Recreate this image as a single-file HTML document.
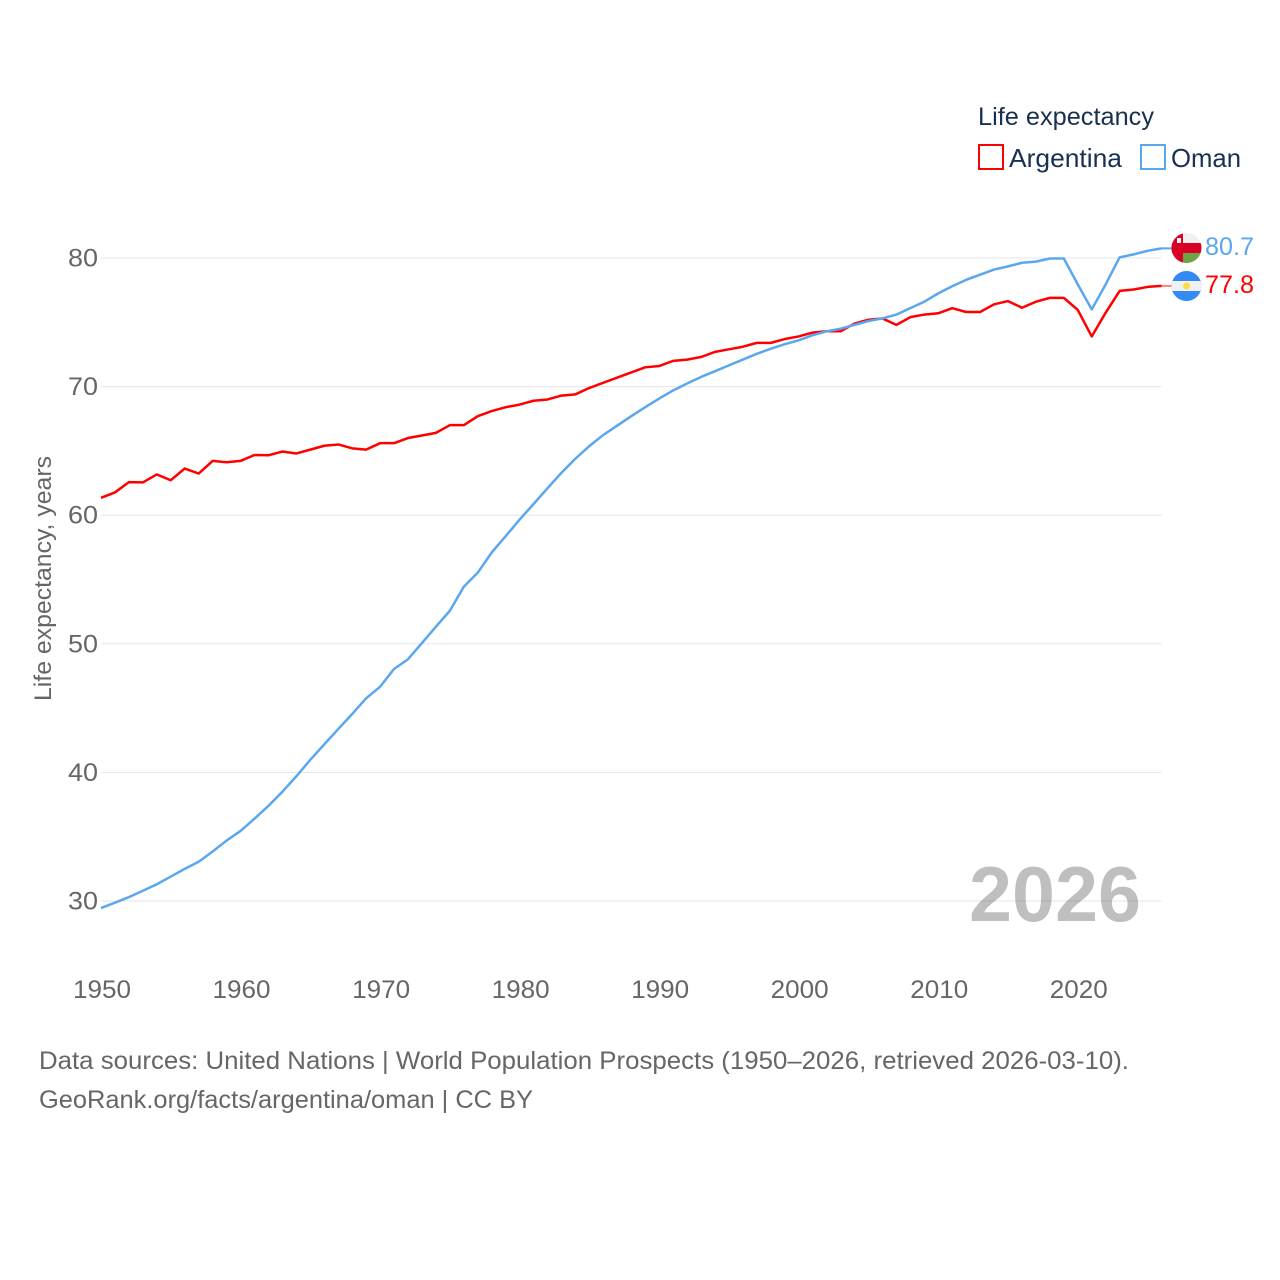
<!DOCTYPE html>
<html lang="en">
<head>
<meta charset="utf-8">
<title>Life expectancy: Argentina and Oman</title>
<style>
html,body{margin:0;padding:0;background:#fff;width:1280px;height:1280px;overflow:hidden}
svg{display:block}
text{font-family:"Liberation Sans",sans-serif}
</style>
</head>
<body>
<svg id="chart" xmlns="http://www.w3.org/2000/svg" width="1280" height="1280" viewBox="0 0 1280 1280">
  <defs>
    <clipPath id="clip-oman"><circle cx="1186.500" cy="248" r="15"/></clipPath>
    <clipPath id="clip-arg"><circle cx="1186.500" cy="286" r="15"/></clipPath>
  </defs>
  <g id="grid"></g>
  <g id="yticks"></g>
  <g id="xticks"></g>
  <text transform="translate(51,701) rotate(-90)" font-size="24" fill="#666" textLength="245" lengthAdjust="spacingAndGlyphs">Life expectancy, years</text>
  <text x="969" y="921" font-size="78" font-weight="bold" fill="#000" fill-opacity="0.25" textLength="172" lengthAdjust="spacingAndGlyphs">2026</text>
  <g id="series"></g>
  <g clip-path="url(#clip-oman)">
    <rect x="1171" y="233" width="31" height="30" fill="#f0f0f0"/>
    <rect x="1171" y="243" width="31" height="10" fill="#d80027"/>
    <rect x="1183" y="253" width="19" height="10" fill="#6da544"/>
    <rect x="1171" y="233" width="12" height="30" fill="#d80027"/>
    <rect x="1177" y="238" width="4" height="5" fill="#f0f0f0"/>
  </g>
  <g clip-path="url(#clip-arg)">
    <rect x="1171" y="271" width="31" height="30" fill="#338af3"/>
    <rect x="1171" y="281" width="31" height="10" fill="#f0f0f0"/>
    <circle cx="1186.500" cy="286" r="3.500" fill="#ffda44"/>
  </g>
  <text id="oman-end-label" x="1205" y="255" font-size="25" fill="#5ba7ef" textLength="49" lengthAdjust="spacingAndGlyphs">80.7</text>
  <text id="argentina-end-label" x="1205" y="293" font-size="25" fill="#ff0000" textLength="49" lengthAdjust="spacingAndGlyphs">77.8</text>

  <g>
    <text x="978" y="125" font-size="25" fill="#1a3050" textLength="176" lengthAdjust="spacingAndGlyphs">Life expectancy</text>
    <g>
      <rect x="979" y="145" width="24" height="24" fill="none" stroke="#ff0000" stroke-width="2"/>
      <text x="1009" y="167" font-size="26" fill="#1a3050" textLength="113" lengthAdjust="spacingAndGlyphs">Argentina</text>
    </g>
    <g>
      <rect x="1141" y="145" width="24" height="24" fill="none" stroke="#5ba7ef" stroke-width="2"/>
      <text x="1171" y="167" font-size="26" fill="#1a3050" textLength="70" lengthAdjust="spacingAndGlyphs">Oman</text>
    </g>
  </g>

  <g>
    <text x="39" y="1069" font-size="25" fill="#666" textLength="1090" lengthAdjust="spacingAndGlyphs">Data sources: United Nations | World Population Prospects (1950–2026, retrieved 2026-03-10).</text>
    <text x="39" y="1108" font-size="25" fill="#666" textLength="494" lengthAdjust="spacingAndGlyphs">GeoRank.org/facts/argentina/oman | CC BY</text>
  </g>
</svg>
<script>
var firstYear = 1950;
var xTickLabels = [1950, 1960, 1970, 1980, 1990, 2000, 2010, 2020];
var yTickLabels = [30, 40, 50, 60, 70, 80];
var argentinaValues = [
  61.35, 61.77, 62.57, 62.55, 63.17, 62.72, 63.63, 63.24, 64.22, 64.12,
  64.22, 64.68, 64.66, 64.95, 64.8, 65.1, 65.4, 65.5, 65.2, 65.1,
  65.6, 65.6, 66.0, 66.2, 66.4, 67.0, 67.0, 67.7, 68.1, 68.4,
  68.6, 68.9, 69.0, 69.3, 69.4, 69.9, 70.3, 70.7, 71.1, 71.5,
  71.6, 72.0, 72.1, 72.3, 72.7, 72.9, 73.1, 73.4, 73.4, 73.7,
  73.9, 74.2, 74.3, 74.3, 74.9, 75.2, 75.3, 74.8, 75.4, 75.6,
  75.7, 76.1, 75.8, 75.8, 76.4, 76.65, 76.13, 76.6, 76.9, 76.9,
  75.96, 73.9, 75.75, 77.44, 77.55, 77.75, 77.83
];
var omanValues = [
  29.45, 29.87, 30.3, 30.8, 31.3, 31.9, 32.5, 33.05, 33.85, 34.7,
  35.45, 36.4, 37.4, 38.5, 39.7, 40.98, 42.18, 43.37, 44.54, 45.76,
  46.66, 48.04, 48.8, 50.06, 51.33, 52.57, 54.44, 55.53, 57.1, 58.37,
  59.66, 60.87, 62.1, 63.3, 64.4, 65.38, 66.24, 66.97, 67.7, 68.4,
  69.07, 69.7, 70.24, 70.75, 71.2, 71.65, 72.1, 72.55, 72.95, 73.3,
  73.6, 74.0, 74.3, 74.5, 74.8, 75.1, 75.3, 75.6, 76.1, 76.6,
  77.25, 77.8, 78.3, 78.7, 79.1, 79.35, 79.63, 79.72, 79.96, 79.96,
  77.95, 76.0, 77.95, 80.05, 80.28, 80.56, 80.75
];

var NS = 'http://www.w3.org/2000/svg';
function xScale(year) { return 101 + (year - 1950) * (1161.5 - 101) / 76; }
function yScale(value) { return 901 + (value - 30) * (258 - 901) / 50; }

var grid = document.getElementById('grid');
var yticks = document.getElementById('yticks');
var xticks = document.getElementById('xticks');
var series = document.getElementById('series');

yTickLabels.forEach(function (v) {
  var line = document.createElementNS(NS, 'line');
  
  
  line.setAttribute('x1', 101);
  line.setAttribute('x2', 1161.5);
  line.setAttribute('y1', yScale(v));
  line.setAttribute('y2', yScale(v));
  line.setAttribute('stroke', '#e6e6e6');
  line.setAttribute('stroke-width', 1);
  grid.appendChild(line);

  var t = document.createElementNS(NS, 'text');
  
  
  t.setAttribute('x', 98);
  t.setAttribute('y', yScale(v) + 8.500);
  t.setAttribute('text-anchor', 'end');
  t.setAttribute('font-size', 25);
  t.setAttribute('fill', '#666');
  t.setAttribute('textLength', 30);
  t.setAttribute('lengthAdjust', 'spacingAndGlyphs');
  t.textContent = v;
  yticks.appendChild(t);
});

xTickLabels.forEach(function (y) {
  var t = document.createElementNS(NS, 'text');
  
  
  t.setAttribute('x', xScale(y) + 1);
  t.setAttribute('y', 998);
  t.setAttribute('text-anchor', 'middle');
  t.setAttribute('font-size', 25);
  t.setAttribute('fill', '#666');
  t.setAttribute('textLength', 58);
  t.setAttribute('lengthAdjust', 'spacingAndGlyphs');
  t.textContent = y;
  xticks.appendChild(t);
});

function pathFor(values) {
  return values.map(function (v, i) {
    return (i ? 'L' : 'M') + xScale(firstYear + i).toFixed(2) + ' ' + yScale(v).toFixed(2);
  }).join(' ');
}

var argentinaLine = document.createElementNS(NS, 'path');


argentinaLine.setAttribute('d', pathFor(argentinaValues));
argentinaLine.setAttribute('fill', 'none');
argentinaLine.setAttribute('stroke', '#ff0000');
argentinaLine.setAttribute('stroke-width', 2.500);
argentinaLine.setAttribute('stroke-linejoin', 'round');
series.appendChild(argentinaLine);

var omanLine = document.createElementNS(NS, 'path');


omanLine.setAttribute('d', pathFor(omanValues));
omanLine.setAttribute('fill', 'none');
omanLine.setAttribute('stroke', '#5ba7ef');
omanLine.setAttribute('stroke-width', 2.500);
omanLine.setAttribute('stroke-linejoin', 'round');
series.appendChild(omanLine);

var argentinaTail = document.createElementNS(NS, 'line');


argentinaTail.setAttribute('x1', xScale(2026));
argentinaTail.setAttribute('x2', 1172);
argentinaTail.setAttribute('y1', yScale(argentinaValues[argentinaValues.length - 1]));
argentinaTail.setAttribute('y2', yScale(argentinaValues[argentinaValues.length - 1]));
argentinaTail.setAttribute('stroke', '#ff8080');
argentinaTail.setAttribute('stroke-width', 2);
series.appendChild(argentinaTail);

var omanTail = document.createElementNS(NS, 'line');


omanTail.setAttribute('x1', xScale(2026));
omanTail.setAttribute('x2', 1172);
omanTail.setAttribute('y1', yScale(omanValues[omanValues.length - 1]));
omanTail.setAttribute('y2', yScale(omanValues[omanValues.length - 1]));
omanTail.setAttribute('stroke', '#5ba7ef');
omanTail.setAttribute('stroke-width', 2);
series.appendChild(omanTail);
</script>
</body>
</html>
